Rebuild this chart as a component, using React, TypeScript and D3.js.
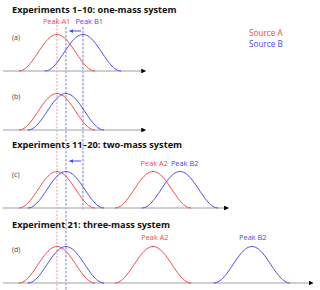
import React from 'react';
import * as d3 from 'd3';

// Positions in mass units (0–100 across the figure width)
const HALF_WIDTH = 12.3;

type Peak = { center: number; source: 'A' | 'B' };
type Panel = {
  id: string;
  baseline: number;
  axisEnd: number;
  peaks: Peak[];
};

const panels: Panel[] = [
  { id: '(a)', baseline: 71, axisEnd: 46, peaks: [{ center: 17.4, source: 'A' }, { center: 25.8, source: 'B' }] },
  { id: '(b)', baseline: 130, axisEnd: 46, peaks: [{ center: 17.4, source: 'A' }, { center: 20.3, source: 'B' }] },
  {
    id: '(c)', baseline: 208, axisEnd: 72.7,
    peaks: [{ center: 17.4, source: 'A' }, { center: 20.3, source: 'B' }, { center: 48.4, source: 'A' }, { center: 57.1, source: 'B' }],
  },
  {
    id: '(d)', baseline: 283, axisEnd: 100,
    peaks: [{ center: 17.4, source: 'A' }, { center: 20.3, source: 'B' }, { center: 48.4, source: 'A' }, { center: 80.3, source: 'B' }],
  },
];

const titles = [
  { text: 'Experiments 1\u201310:  one-mass system', y: 13 },
  { text: 'Experiments 11\u201320: two-mass system', y: 148 },
  { text: 'Experiment 21:  three-mass system', y: 228 },
];

const peakLabels = [
  { text: 'Peak A1', x: 17.3, y: 24, source: 'A' },
  { text: 'Peak B1', x: 27.8, y: 24, source: 'B' },
  { text: 'Peak A2', x: 48.8, y: 166, source: 'A' },
  { text: 'Peak B2', x: 58.6, y: 166, source: 'B' },
  { text: 'Peak A2', x: 49, y: 240, source: 'A' },
  { text: 'Peak B2', x: 80.6, y: 240, source: 'B' },
];

// Guide lines: mass position, top and bottom in px
const guides = [
  { x: 17.4, y1: 18, y2: 290, source: 'A' },
  { x: 20.3, y1: 27, y2: 290, source: 'B' },
  { x: 25.8, y1: 27, y2: 210, source: 'B' },
];

const shifts = [{ from: 25.2, to: 21.5, y: 31 }, { from: 25.2, to: 21.5, y: 161 }];

const RED = '#f24848';
const BLUE = '#4848f2';
const FONT = '"Open Sans", "Noto Sans", sans-serif';

const x = d3.scaleLinear().domain([0, 100]).range([3, 313]);

function bell(center: number): [number, number][] {
  const pts: [number, number][] = [];
  for (let i = 0; i <= 60; i++) {
    const u = center - HALF_WIDTH + (2 * HALF_WIDTH * i) / 60;
    pts.push([u, (1 + Math.cos((Math.PI * (u - center)) / HALF_WIDTH)) / 2]);
  }
  return pts;
}

export default function App() {
  return (
    <svg width={320} height={290} style={{ position: 'absolute', left: 0, top: 0, background: '#fff' }}>
      <defs>
        <marker id="axisHead" viewBox="0 0 10 10" refX="9" refY="5" markerWidth="3" markerHeight="3" orient="auto">
          <path d="M0,0 L10,5 L0,10 z" fill="#000" />
        </marker>
        <marker id="shiftHead" viewBox="0 0 10 10" refX="9" refY="5" markerWidth="4" markerHeight="4" orient="auto">
          <path d="M0,0 L10,5 L0,10 z" fill={BLUE} />
        </marker>
      </defs>

      {titles.map(t => (
        <text key={t.text} x={12} y={t.y} fontFamily={FONT} fontWeight="bold" fontSize={9.2} fill="#111">
          {t.text}
        </text>
      ))}

      <text x={249} y={36} fontFamily={FONT} fontSize={8.2} fill={RED}>Source A</text>
      <text x={249} y={47} fontFamily={FONT} fontSize={8.2} fill={BLUE}>Source B</text>

      {guides.map((g, i) => (
        <line
          key={i}
          x1={x(g.x)} x2={x(g.x)} y1={g.y1} y2={g.y2}
          stroke={g.source === 'A' ? '#f08080' : '#b4b4fa'}
          strokeWidth={g.source === 'A' ? 0.8 : 1.8}
          strokeDasharray={g.source === 'A' ? '2,1.5' : '2.5,1.5'}
        />
      ))}

      {panels.map(p => {
        const y = d3.scaleLinear().domain([0, 1]).range([p.baseline, p.baseline - 36.5]);
        const line = d3.line<[number, number]>().x(d => x(d[0])).y(d => y(d[1]));
        return (
          <g key={p.id}>
            <line x1={x(0)} x2={x(p.axisEnd)} y1={p.baseline} y2={p.baseline} stroke="#bfbfbf" strokeWidth={1.6} markerEnd="url(#axisHead)" />
            <text x={12} y={p.baseline - 31} fontFamily={FONT} fontSize={7} fill="#444">{p.id}</text>
            {p.peaks.map((pk, i) => (
              <path key={i} d={line(bell(pk.center)) ?? ''} fill="none" stroke={pk.source === 'A' ? RED : BLUE} strokeWidth={1} />
            ))}
          </g>
        );
      })}

      {shifts.map((s, i) => (
        <line key={i} x1={x(s.from)} x2={x(s.to)} y1={s.y} y2={s.y} stroke={BLUE} strokeWidth={1} markerEnd="url(#shiftHead)" />
      ))}

      {peakLabels.map((l, i) => (
        <text key={i} x={x(l.x)} y={l.y} textAnchor="middle" fontFamily={FONT} fontSize={7.4} fill={l.source === 'A' ? RED : BLUE}>
          {l.text}
        </text>
      ))}
    </svg>
  );
}
